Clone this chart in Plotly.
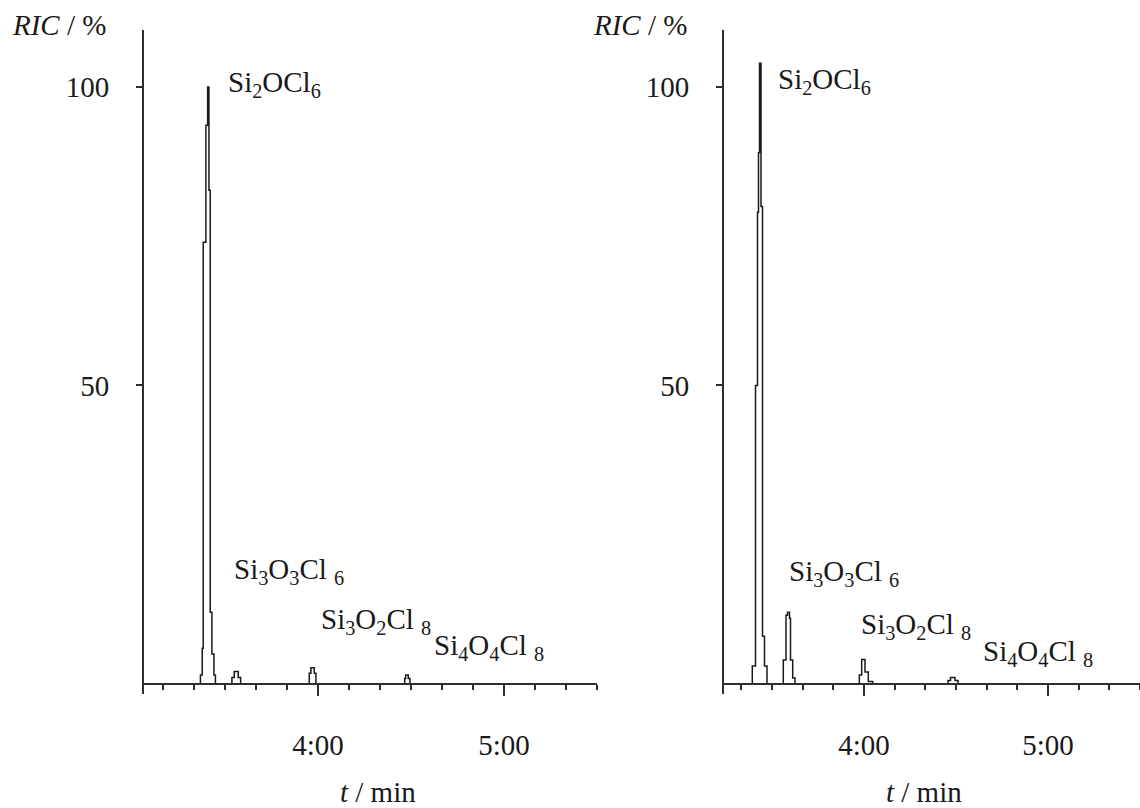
import plotly.graph_objects as go

# ---------------- data ----------------
# left chromatogram (time in minutes, relative intensity in %)
left_t = [3.065, 3.3548, 3.3683, 3.3780, 3.3833, 3.3978, 3.4070, 3.4140, 3.4210, 3.4301,
          3.4409, 3.4489, 3.5376, 3.5500, 3.5715, 3.5844, 3.9532, 3.9624, 3.9801, 3.9892,
          4.4661, 4.4715, 4.4855, 4.4946, 5.5]
left_ric = [0, 0, 1.5, 6, 74, 93.6, 100, 82.7, 12, 5,
            1.5, 0, 1.1, 2.1, 1.1, 0, 1.8, 2.7, 1.8, 0,
            0.9, 1.5, 0.9, 0, 0]

# right chromatogram
right_t = [3.2391, 3.3804, 3.3929, 3.4103, 3.4212, 3.4266, 3.4321, 3.4402, 3.4484, 3.4592,
           3.4728, 3.5614, 3.5761, 3.5842, 3.5951, 3.6005, 3.6125, 3.6250, 3.9745, 3.9875,
           4.0054, 4.0234, 4.0473, 4.4565, 4.4701, 4.4946, 4.5109, 5.5]
right_ric = [0, 0, 3, 50, 79, 89, 104, 80, 8, 3,
             0, 4, 11.5, 12, 11, 4, 1, 0, 1.5, 4.1,
             2, 0.4, 0, 0.6, 1.1, 0.6, 0, 0]

x_tickvals = [4, 5]
x_ticktext = ["4:00", "5:00"]
y_tickvals = [50, 100]
y_ticktext = ["50", "100"]

peak_labels = ["Si<sub>2</sub>OCl<sub>6</sub>",
               "Si<sub>3</sub>O<sub>3</sub>Cl <sub>6</sub>",
               "Si<sub>3</sub>O<sub>2</sub>Cl <sub>8</sub>",
               "Si<sub>4</sub>O<sub>4</sub>Cl <sub>8</sub>"]
left_label_t = [3.505, 3.540, 4.008, 4.615]
left_label_y = [100.5, 18.9, 10.5, 6.2]
right_label_t = [3.522, 3.584, 3.975, 4.638]
right_label_y = [101.0, 18.6, 9.7, 5.2]

# ---------------- style ----------------
W, H = 1140, 808
FONT = "Liberation Serif, Times New Roman, serif"
INK = "#1a1a1a"
AX = "#2e2e2e"
FS = 29

left_xrange = [3.065, 5.5]
right_xrange = [3.2391, 5.5]
y_range = [-1.68, 109.55]
x_axis_pos = (H - 684) / H
y_dom = [(H - 694) / H, (H - 30) / H]

fig = go.Figure()
fig.add_trace(go.Scatter(x=left_t, y=left_ric, mode="lines", line=dict(shape="hv", color=INK, width=1.5),
                         xaxis="x", yaxis="y", hoverinfo="skip", showlegend=False))
fig.add_trace(go.Scatter(x=right_t, y=right_ric, mode="lines", line=dict(shape="hv", color=INK, width=1.5),
                         xaxis="x2", yaxis="y2", hoverinfo="skip", showlegend=False))

minor_vals = [3 + k / 6 for k in range(0, 16)]

def xaxis_cfg(domain, rng):
    return dict(domain=domain, range=rng, anchor="free", position=x_axis_pos,
                showline=True, linecolor=AX, linewidth=1.7, showgrid=False, zeroline=False,
                tickmode="array", tickvals=x_tickvals, ticktext=x_ticktext,
                ticks="outside", ticklen=11, tickwidth=1.7, tickcolor=AX,
                ticklabelstandoff=24,
                tickfont=dict(family=FONT, size=FS, color=INK),
                minor=dict(tickmode="array", tickvals=minor_vals, ticks="outside", ticklen=5,
                           tickwidth=1.5, tickcolor=AX, showgrid=False),
                fixedrange=True)

def yaxis_cfg(anchor):
    return dict(domain=y_dom, range=y_range, anchor=anchor, showline=True, linecolor=AX, linewidth=1.7,
                showgrid=False, zeroline=False, tickmode="array", tickvals=y_tickvals, ticktext=y_ticktext,
                ticks="outside", ticklen=6, tickwidth=1.7, tickcolor=AX, ticklabelstandoff=21,
                tickfont=dict(family=FONT, size=FS, color=INK), fixedrange=True)

fig.update_layout(
    width=W, height=H, margin=dict(l=0, r=0, t=0, b=0),
    paper_bgcolor="white", plot_bgcolor="white",
    xaxis=xaxis_cfg([144 / W, 597 / W], left_xrange),
    xaxis2=xaxis_cfg([724 / W, 1.0], right_xrange),
    yaxis=yaxis_cfg("x"),
    yaxis2=yaxis_cfg("x2"),
)

ann = []
for txt, tx, ty in zip(peak_labels, left_label_t, left_label_y):
    ann.append(dict(x=tx, y=ty, xref="x", yref="y", text=txt, showarrow=False, xanchor="left",
                    yanchor="middle", font=dict(family=FONT, size=FS, color=INK)))
for txt, tx, ty in zip(peak_labels, right_label_t, right_label_y):
    ann.append(dict(x=tx, y=ty, xref="x2", yref="y2", text=txt, showarrow=False, xanchor="left",
                    yanchor="middle", font=dict(family=FONT, size=FS, color=INK)))
# axis titles
for xl in [10, 591]:
    ann.append(dict(x=xl / W, y=(H - 25) / H, xref="paper", yref="paper", text="<i>RIC</i> / %",
                    showarrow=False, xanchor="left", yanchor="middle",
                    font=dict(family=FONT, size=FS, color=INK)))
for xc in [378, 924]:
    ann.append(dict(x=xc / W, y=(H - 792) / H, xref="paper", yref="paper", text="<i>t</i> / min",
                    showarrow=False, xanchor="center", yanchor="middle",
                    font=dict(family=FONT, size=FS, color=INK)))
fig.update_layout(annotations=ann)

fig.write_html("out.html")
